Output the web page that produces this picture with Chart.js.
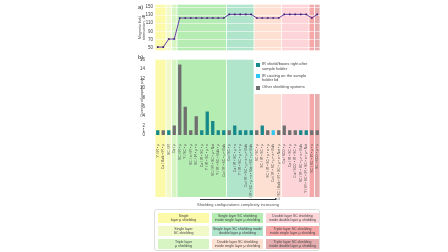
<!DOCTYPE html>
<html>
<head>
<meta charset="utf-8">
<script src="https://cdn.jsdelivr.net/npm/chart.js@4"></script>
<style>
  body { margin: 0; width: 448px; height: 252px; background: #fff; position: relative; overflow: hidden; font-family: "Liberation Sans", Arial, sans-serif; }
  canvas { position: absolute; }
  .tag { position: absolute; font-size: 6px; color: #333; }
  .leg { position: absolute; left: 256px; top: 62px; width: 56px; font-size: 4px; color: #444; line-height: 4.6px; }
  .leg div { position: relative; padding-left: 6px; margin-bottom: 2.4px; }
  .leg span { position: absolute; left: 0; top: 0.5px; width: 4px; height: 4px; }
  .arrow { position: absolute; left: 200px; top: 199px; width: 76px; height: 0; border-top: 0.6px solid #333; }
  .arrow:after { content: ""; position: absolute; right: -2px; top: -2px; border-left: 3px solid #333; border-top: 1.7px solid transparent; border-bottom: 1.7px solid transparent; }
  .caption { position: absolute; left: 180px; top: 202px; width: 116px; text-align: center; font-size: 4px; color: #555; }
  .table { position: absolute; left: 154px; top: 209px; width: 166px; height: 42px; border: 0.6px solid #ddd; border-radius: 3px;
           display: grid; grid-template-columns: 51px 51px 53px; grid-template-rows: 10px 10px 10px; column-gap: 3px; row-gap: 3px; padding: 3px 3px; box-sizing: border-box; }
  .table div { font-size: 3.5px; line-height: 4px; color: #444; display: flex; align-items: center; justify-content: center; text-align: center; white-space: pre-line; }
</style>
</head>
<body>
<canvas id="topChart" width="195" height="55" style="left:130px; top:0px;"></canvas>
<canvas id="barChart" width="195" height="145" style="left:130px; top:55px;"></canvas>
<div class="tag" style="left:138px; top:4px;">a)</div>
<div class="tag" style="left:138px; top:54px;">b)</div>
<div class="leg" id="barLegend"></div>
<div class="arrow"></div>
<div class="caption">Shielding configurations complexity increasing</div>
<div class="table" id="regionTable"></div>
<script>
// shielding configurations (x categories)
const configLabels = [
  'Y / IR • μ', 'Cu / Bulk • IR • μ', 'SC / IR', 'Cu / μ',
  'SC / IR • μ', 'Y / SC • μ', 'SC / a • IR • μ', 'SC / IR • μ • a', 'Cu / IR • SC • μ',
  'Y / IR • SC • μ • a', 'SC / IR • SC • μ • Nat', 'Y / IR • SC • Bulk • μ', 'Cu / IR • SC • μ • Bulk',
  'Cu / SC • μ', 'Cu / IR • SC • μ • a', 'Y / IR • SC • μ • a • μ', 'Cu / IR • SC • μ • a • μ • Bulk',
  'Cu / IR • SC • μ • a • Nat • SC • μ • Bulk',
  'SC / SC • μ', 'SC / IR • SC • μ', 'SC / IR • SC • μ • a • μ', 'Cu / IR • SC • μ • a • Bulk',
  'Cu / SC / Bulk • IR • SC • μ • a • Nat • μ',
  'Cu / SCO • μ', 'Cu / IR • SC • μ', 'Cu / SCO • IR • SC • μ', 'SC / IR • SC • μ • a • Bulk',
  'Y / IR • SC • IR • SC • a • μ • Nat',
  'SC / SC • IR • μ • a', 'SC / SCO • μ • μ'
];

// a) magnetic field attenuation, dB
const attenuation = [51, 51, 71, 71,
  123, 123, 123, 123, 123, 123, 123, 123, 123,
  132, 132, 132, 132, 132,
  123, 123, 123, 123, 123,
  132, 132, 132, 132, 132,
  123, 132];
const attenuationTicks = [50, 70, 90, 110, 130, 150];

// b) quantity of papers by shielding type
const irShield = [1, null, 1, null, null, null, null, null, 1, 5, 3, 1, 1,
  null, 2, 1, 1, 1, null, 2, null, null, null, null, null, null, 1, 1, null, null];
const irCoating = [null, null, null, null, null, null, null, null, null, null, null, null, null,
  null, null, null, null, null, null, null, null, 1, null, null, null, null, null, null, null, null];
const otherSystems = [null, 1, null, 2, 15, 6, 1, 4, null, null, null, null, null,
  1, null, null, null, null, 1, null, 1, null, 1, 2, 1, 1, null, null, 1, 1];
const paperTicks = [0, 1, 2, 4, 6, 8, 10, 12, 14, 16];

// shielding groups (columns in each group, in order)
const regionNames = [
  'Single\nlayer μ shielding', 'Single layer\nSC shielding', 'Triple layer\nμ shielding',
  'Single layer SC shielding\ninside single layer μ shielding',
  'Single layer SC shielding inside\ndouble layer μ shielding',
  'Double layer SC shielding\ninside single layer μ shielding',
  'Double layer SC shielding\ninside double layer μ shielding',
  'Triple layer SC shielding\ninside single layer μ shielding',
  'Triple layer SC shielding\ninside double layer μ shielding'
];
const regionSizes = [2, 1, 1, 9, 5, 5, 5, 1, 1];
const regionTops = [16, 16, 16, 16, 16, 8.7, 8.7, 8.7, 8.7];
const regionColors = ['#fcf9a8', '#f1f9c9', '#d6f5c2', '#b5ecb2', '#b0e4cb', '#fde0d1', '#fdd4d7', '#f6a8a9', '#e6adae'];

const seriesNames = ['IR shield/boxes right after sample holder', 'IR coating on the sample holder lid', 'Other shielding systems'];
const seriesColors = ['#17898b', '#2ec6f2', '#6f6f6f'];

const font = '"Liberation Sans", Arial, sans-serif';

// background bands behind each group of configurations
const bandsPlugin = {
  id: 'bands',
  beforeDraw(chart) {
    const { ctx, chartArea } = chart;
    const x = chart.scales.x;
    const half = x.width / configLabels.length / 2;
    const isBar = chart.config.type === 'bar';
    let start = 0;
    ctx.save();
    regionSizes.forEach((n, i) => {
      const x0 = x.getPixelForValue(start) - half;
      const x1 = x.getPixelForValue(start + n - 1) + half;
      const y0 = isBar ? chart.scales.y.getPixelForValue(regionTops[i]) : chartArea.top;
      const y1 = isBar ? chartArea.bottom + 62 : chartArea.bottom;
      ctx.fillStyle = regionColors[i];
      ctx.fillRect(x0 + 0.4, y0, x1 - x0 - 0.8, y1 - y0);
      start += n;
    });
    ctx.restore();
  }
};

const setTicks = list => axis => { axis.ticks = list.map(v => ({ value: v })); };

new Chart(document.getElementById('topChart'), {
  type: 'line',
  data: {
    labels: configLabels,
    datasets: [{
      data: attenuation,
      borderColor: '#6b41a6',
      borderWidth: 1,
      pointStyle: 'rect',
      pointRadius: 1.2,
      pointBackgroundColor: '#3e2273',
      pointBorderWidth: 0
    }]
  },
  options: {
    responsive: false,
    animation: false,
    layout: { padding: { top: 4, right: 5, bottom: 1, left: 0 } },
    plugins: { legend: { display: false }, tooltip: { enabled: false } },
    scales: {
      x: { type: 'category', offset: true, display: false },
      y: {
        min: 43, max: 156,
        afterBuildTicks: setTicks(attenuationTicks),
        afterFit: s => { s.width = 25; },
        border: { display: false },
        grid: { color: 'rgba(255,255,255,0.9)', lineWidth: 0.6, drawTicks: false },
        ticks: { autoSkip: false, font: { family: font, size: 4.5 }, color: '#444', padding: 2 },
        title: { display: true, text: ['Magnetic field', 'attenuation, dB'], font: { family: font, size: 3.8, lineHeight: 1.1 }, color: '#444', padding: { top: 8, bottom: 0 } }
      }
    }
  },
  plugins: [bandsPlugin]
});

new Chart(document.getElementById('barChart'), {
  type: 'bar',
  data: {
    labels: configLabels,
    datasets: [irShield, irCoating, otherSystems].map((d, i) => ({
      label: seriesNames[i],
      data: d,
      backgroundColor: seriesColors[i],
      barPercentage: 0.6,
      categoryPercentage: 1
    }))
  },
  options: {
    responsive: false,
    animation: false,
    layout: { padding: { top: 4, right: 5, bottom: 0, left: 0 } },
    plugins: { legend: { display: false }, tooltip: { enabled: false } },
    scales: {
      x: {
        stacked: true,
        afterFit: s => { s.height = 65; },
        border: { display: false },
        grid: { display: false },
        ticks: { autoSkip: false, minRotation: 90, maxRotation: 90, padding: 1, font: { family: font, size: 3.4 }, color: '#555' }
      },
      y: {
        stacked: true,
        min: 0, max: 16,
        afterBuildTicks: setTicks(paperTicks),
        afterFit: s => { s.width = 25; },
        border: { display: false },
        grid: { display: false },
        ticks: { autoSkip: false, font: { family: font, size: 4.5 }, color: '#444', padding: 2 },
        title: { display: true, text: 'Quantity of papers, pcs', font: { family: font, size: 3.8 }, color: '#444', padding: { top: 10, bottom: 0 } }
      }
    }
  },
  plugins: [bandsPlugin]
});

// legend for the bar series
document.getElementById('barLegend').innerHTML = seriesNames.map((n, i) =>
  '<div><span style="background:' + seriesColors[i] + '"></span>' + n + '</div>').join('');

// group legend table: columns read top to bottom
const order = [0, 3, 6, 1, 4, 7, 2, 5, 8];
document.getElementById('regionTable').innerHTML = order.map(k =>
  '<div style="background:' + regionColors[k] + '">' + regionNames[k] + '</div>').join('');
</script>
</body>
</html>
